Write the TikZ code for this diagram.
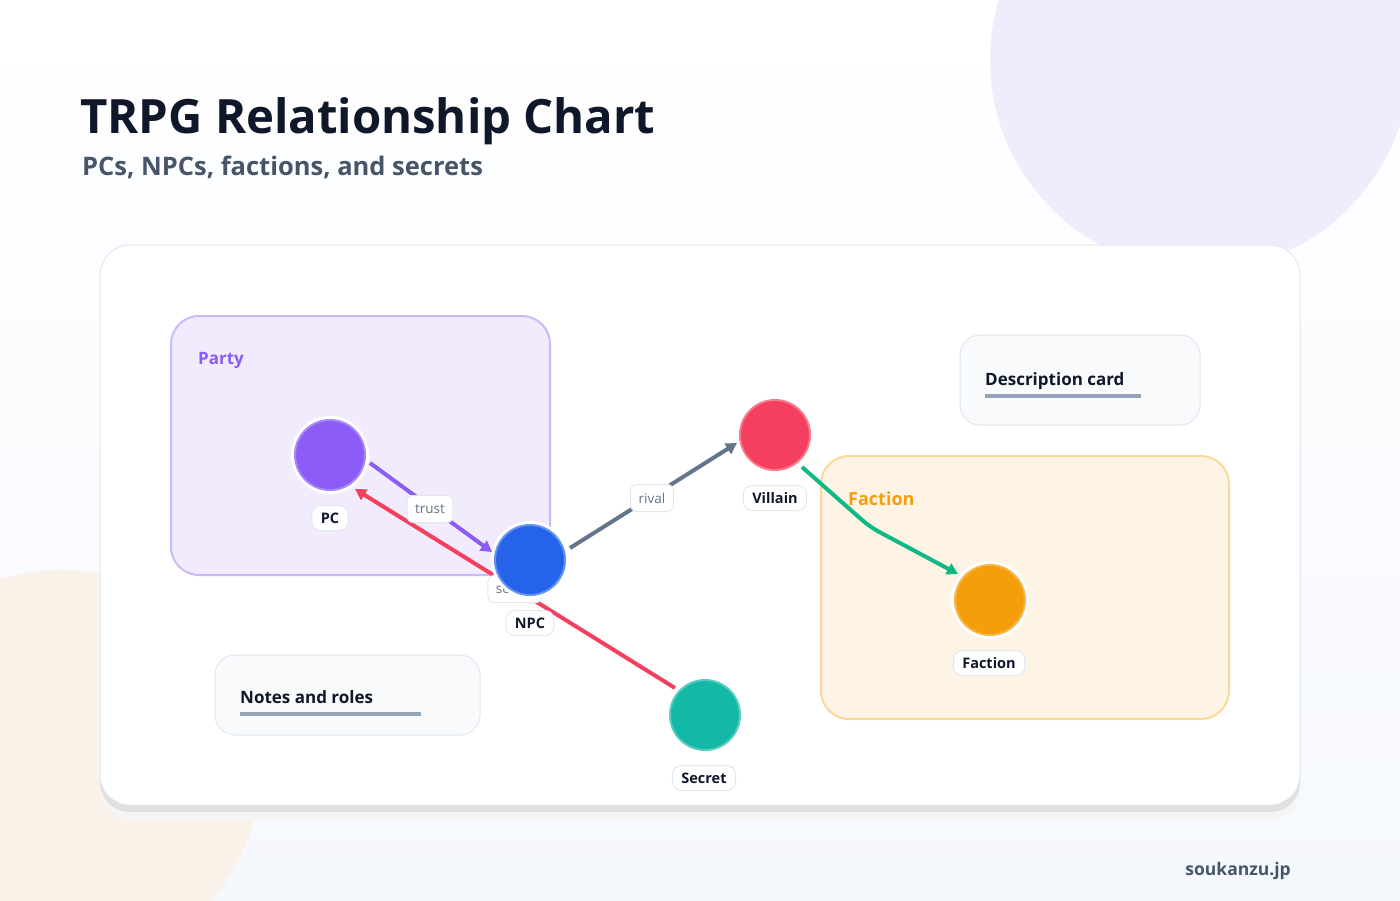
\documentclass[tikz,border=0pt]{standalone}
\usepackage{fontspec}
\setmainfont{Open Sans}
\usetikzlibrary{arrows.meta}
\definecolor{bgc}{HTML}{F5F8FD}
\definecolor{lav}{HTML}{F0ECFC}
\definecolor{peach}{HTML}{FAF2E8}
\definecolor{cardb}{HTML}{E2E8F0}
\definecolor{ink}{HTML}{0F172A}
\definecolor{slate}{HTML}{475569}
\definecolor{muted}{HTML}{64748B}
\definecolor{barc}{HTML}{94A3B8}
\definecolor{pfill}{HTML}{F1EBFD}
\definecolor{pbord}{HTML}{CDB9F9}
\definecolor{ffill}{HTML}{FDF4E6}
\definecolor{fbord}{HTML}{FAD99B}
\definecolor{cpurple}{HTML}{8B5CF6}
\definecolor{cblue}{HTML}{2563EB}
\definecolor{cred}{HTML}{F43F5E}
\definecolor{corange}{HTML}{F59E0B}
\definecolor{cteal}{HTML}{14B8A6}
\definecolor{cgreen}{HTML}{10B981}
\definecolor{cgray}{HTML}{64748B}
\definecolor{softcard}{HTML}{F8FAFC}
\tikzset{
  ent/.style={circle, minimum size=70pt, inner sep=0pt, line width=2pt},
  ring/.style={circle, fill=white, minimum size=78pt, inner sep=0pt},
  pill/.style={draw=cardb, fill=white, rounded corners=9pt, line width=1pt, font=\bfseries\fontsize{14.5}{16}\selectfont, text=ink, inner xsep=9pt, minimum height=25pt},
  elabel/.style={draw=cardb, fill=white, rounded corners=6pt, line width=1pt, font=\fontsize{13.5}{15}\selectfont, text=muted, inner xsep=8pt, minimum height=27pt},
  edge/.style={line width=4pt, -{Triangle[length=11pt,width=12pt]}},
  grp/.style={rounded corners=28pt, line width=2pt},
  softbox/.style={draw=cardb, fill=softcard, rounded corners=20pt, line width=1pt},
  bar/.style={draw=barc, line width=4pt},
}
\begin{document}
\begin{tikzpicture}[x=1pt,y=-1pt]
\useasboundingbox (0,0) rectangle (1400,900);
\shade[top color=white, bottom color=bgc] (0,0) rectangle (1400,900);
\begin{scope}
\clip (0,0) rectangle (1400,900);
\fill[lav] (1200,60) circle (210);
\fill[peach] (60,770) circle (200);
\end{scope}
% title
\node[anchor=base west, inner sep=0pt, text=ink, font=\bfseries\fontsize{47.3}{54}\selectfont] (title) at (80,133) {TRPG Relationship Chart};
\node[anchor=base west, inner sep=0pt, text=slate, font=\bfseries\fontsize{25.5}{30}\selectfont] (subtitle) at (82,175) {PCs, NPCs, factions, and secrets};
\node[anchor=base east, inner sep=0pt, text=slate, font=\bfseries\fontsize{17.5}{20}\selectfont] (foot) at (1291,875) {soukanzu.jp};
% card with shadow
\fill[black!4, rounded corners=30pt] (100,260) rectangle (1300,820);
\fill[black!12, rounded corners=30pt] (100,252) rectangle (1300,812);
\draw[cardb, fill=white, line width=1pt, rounded corners=30pt] (100,245) rectangle (1300,805);
% groups
\draw[grp, draw=pbord, fill=pfill] (171,316) rectangle (550,575);
\node[anchor=base west, inner sep=0pt, text=cpurple, font=\bfseries\fontsize{17}{20}\selectfont] (partylbl) at (198,364) {Party};
\draw[grp, draw=fbord, fill=ffill] (821,456) rectangle (1229,719);
\node[anchor=base west, inner sep=0pt, text=corange, font=\bfseries\fontsize{18}{20}\selectfont] (factlbl) at (848,505) {Faction};
% soft boxes
\draw[softbox] (960,335) rectangle (1200,425);
\node[anchor=base west, inner sep=0pt, text=ink, font=\bfseries\fontsize{17}{20}\selectfont] (desc) at (985,385) {Description card};
\draw[bar] (985,396) -- (1141,396);
\draw[softbox] (215,655) rectangle (480,735);
\node[anchor=base west, inner sep=0pt, text=ink, font=\bfseries\fontsize{17}{20}\selectfont] (notes) at (240,703) {Notes and roles};
\draw[bar] (240,714) -- (421,714);
% coordinates of entities
\coordinate (pcC) at (330,455);
\coordinate (npcC) at (530,560);
\coordinate (vilC) at (775,435);
\coordinate (facC) at (990,600);
\coordinate (secC) at (705,715);
% edges (behind nodes)
\draw[edge, cred] (675,688) -- (355,489);
\node[elabel] (seclbl) at (515,589) {secret};
\draw[edge, cpurple] (370,463) -- (492,552);
\node[elabel] (trustlbl) at (430,509) {trust};
\draw[edge, cgray] (570,548) -- (737,443);
\node[elabel] (rivallbl) at (652,498) {rival};
\draw[edge, cgreen, rounded corners=10pt] (802,467) -- (870,527) -- (958,574);
% entity nodes
\node[ring] (pcR) at (pcC) {};
\node[ent, fill=cpurple, draw=cpurple!75!white] (pc) at (pcC) {};
\node[ring] (npcR) at (npcC) {};
\node[ent, fill=cblue, draw=cblue!70!white] (npc) at (npcC) {};
\node[ent, fill=cred, draw=cred!70!white] (vil) at (vilC) {};
\node[ring] (facR) at (facC) {};
\node[ent, fill=corange, draw=corange!75!white] (fac) at (facC) {};
\node[ent, fill=cteal, draw=cteal!70!white] (sec) at (secC) {};
% labels
\node[pill] (pcl) at (330,518) {PC};
\node[pill] (npcl) at (530,623) {NPC};
\node[pill] (vill) at (775,498) {Villain};
\node[pill] (facl) at (989,663) {Faction};
\node[pill] (secl) at (704,778) {Secret};
\end{tikzpicture}
\end{document}
